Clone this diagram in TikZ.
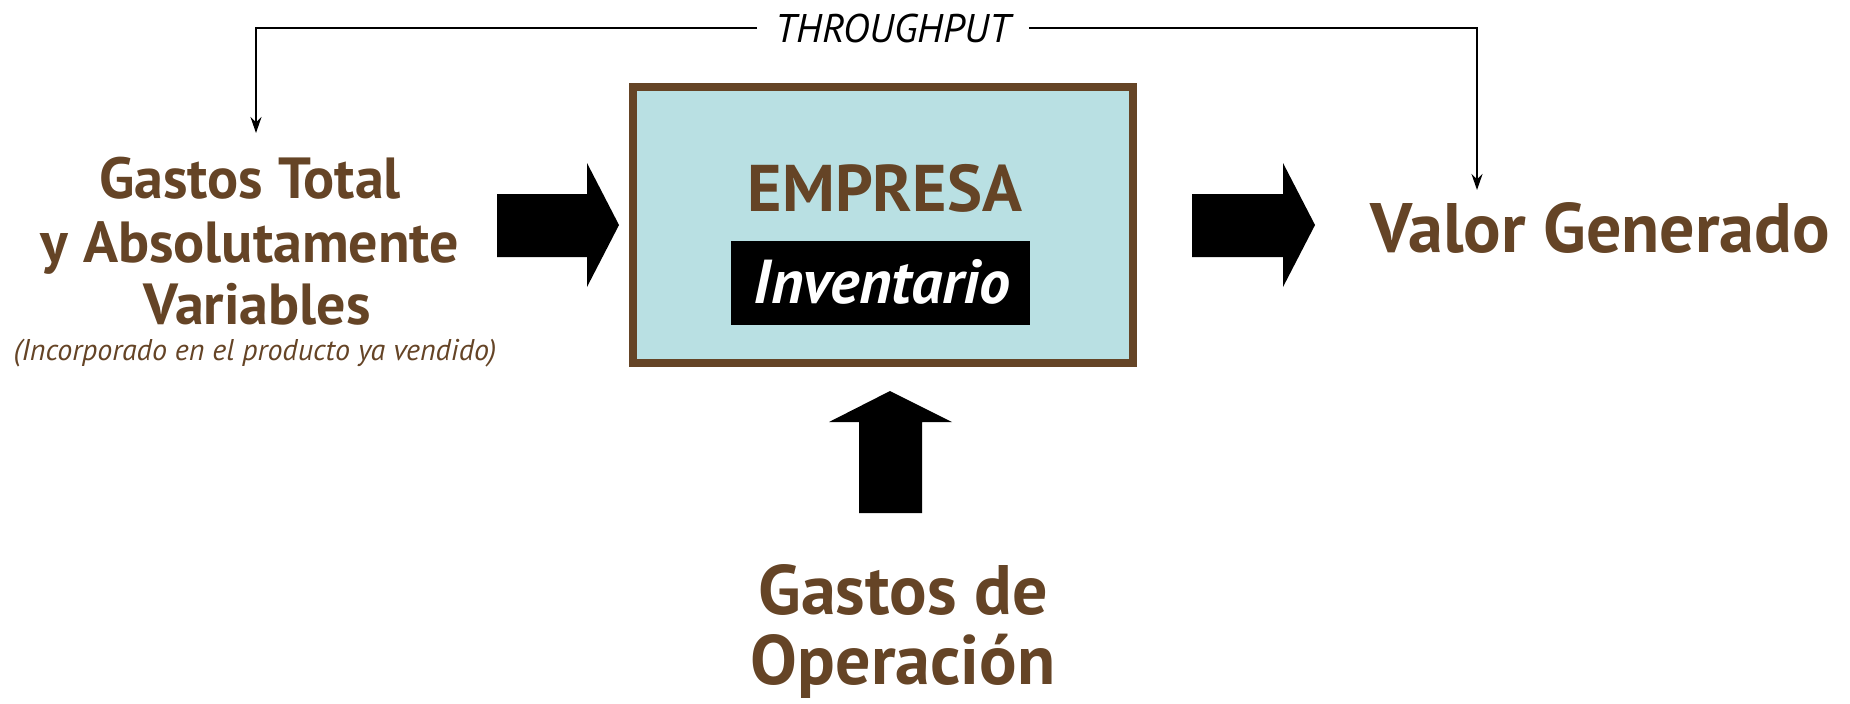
\documentclass[tikz,border=0pt]{standalone}
\usepackage{fontspec}
\setmainfont{PT Sans}
\usetikzlibrary{arrows.meta,positioning}
\definecolor{brn}{HTML}{654426}
\definecolor{sky}{HTML}{B9E0E3}
\tikzset{
  box/.style={draw=brn, fill=sky, line width=4pt, inner sep=0pt},
  invbox/.style={fill=black, inner sep=0pt},
  invtxt/.style={text=white, font=\fontsize{31}{36}\selectfont\bfseries\itshape},
  head/.style={text=brn, font=\fontsize{33}{40}\selectfont\bfseries},
  bighead/.style={text=brn, font=\fontsize{35}{40}\selectfont\bfseries},
  lefthead/.style={text=brn, font=\fontsize{29}{34}\selectfont\bfseries},
  note/.style={text=brn, font=\fontsize{15}{18}\selectfont\itshape},
  thrutxt/.style={text=black, font=\fontsize{20}{24}\selectfont\itshape, inner xsep=9pt},
  thru/.style={draw=black, line width=1pt, -{Stealth[length=8pt,width=5.5pt]}},
  blk/.style={fill=black},
}
\begin{document}
\begin{tikzpicture}[x=0.5pt,y=-0.5pt]
\useasboundingbox (0,0) rectangle (1850,703);

% empresa
\node[box, minimum width=250pt, minimum height=138pt] (emp) at (883,225) {};
\node[head, anchor=base] (empT) at (885,211) {EMPRESA};
\node[invbox, minimum width=149.5pt, minimum height=42pt] (inv) at (880.5,283) {};
\node[invtxt, anchor=base] (invT) at (882,303) {Inventario};

% entradas y salida
\node[lefthead, anchor=base] (gt1) at (250,198) {Gastos Total};
\node[lefthead, anchor=base] (gt2) at (250,262) {y Absolutamente};
\node[lefthead, anchor=base] (gt3) at (257,324) {Variables};
\node[note, anchor=base] (gt4) at (255,360) {(Incorporado en el producto ya vendido)};
\node[bighead, anchor=base] (vg) at (1600,252) {Valor Generado};
\node[bighead, anchor=base] (go1) at (903,614) {Gastos de};
\node[bighead, anchor=base] (go2) at (903,684) {Operación};

% throughput
\node[thrutxt, anchor=base] (tp) at (893,42) {THROUGHPUT};
\coordinate (inTip) at (256,133);
\coordinate (outTip) at (1477,190);
\draw[thru] (tp.west) -| (inTip);
\draw[thru] (tp.east) -| (outTip);

% flechas gruesas
\fill[blk] (497,194) -- (587,194) -- (587,163) -- (619,225) -- (587,287) -- (587,257) -- (497,257) -- cycle;
\fill[blk] (1192,194) -- (1283,194) -- (1283,163) -- (1315,225) -- (1283,287) -- (1283,257) -- (1192,257) -- cycle;
\fill[blk] (859,513) -- (859,422) -- (829,422) -- (890,391) -- (952,422) -- (922,422) -- (922,513) -- cycle;
\end{tikzpicture}
\end{document}
